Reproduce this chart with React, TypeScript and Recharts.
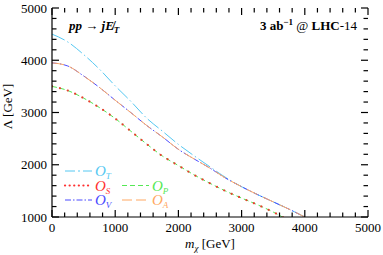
import React from 'react';
import { LineChart, Line, XAxis, YAxis, Legend } from 'recharts';

const MX = [0, 250, 500, 750, 1000, 1250, 1500, 1750, 2000, 2250, 2500, 2750, 3000, 3250, 3500, 3750, 4000];
const LAMBDA_T = [4500, 4350, 4110, 3830, 3510, 3210, 2890, 2640, 2390, 2170, 1960, 1755, 1580, 1430, 1290, 1150, 1000];
const LAMBDA_A = [3950, 3890, 3700, 3480, 3235, 2995, 2750, 2530, 2295, 2110, 1935, 1742, 1580, 1430, 1290, 1150, 1000];
const LAMBDA_V = [3950, 3890, 3700, 3480, 3235, 2995, 2750, 2530, 2295, 2110, 1935, 1742, 1580, 1430, 1290, 1150, 1000];
const LAMBDA_P = [3500, 3420, 3275, 3095, 2885, 2640, 2395, 2165, 1985, 1805, 1645, 1495, 1362, 1235, 1095, 930, null];
const LAMBDA_S = [3500, 3420, 3275, 3095, 2885, 2640, 2395, 2165, 1985, 1805, 1645, 1495, 1362, 1235, 1095, 930, null];

const X_TICKS = [0, 200, 400, 600, 800, 1000, 1200, 1400, 1600, 1800, 2000, 2200, 2400, 2600, 2800, 3000, 3200, 3400, 3600, 3800, 4000, 4200, 4400, 4600, 4800, 5000];
const Y_TICKS = [1000, 1200, 1400, 1600, 1800, 2000, 2200, 2400, 2600, 2800, 3000, 3200, 3400, 3600, 3800, 4000, 4200, 4400, 4600, 4800, 5000];
const X_LABELS = [0, 1000, 2000, 3000, 4000, 5000];
const Y_LABELS = [1000, 2000, 3000, 4000, 5000];
const MAJOR_STEP = 1000;

const data = MX.map((x, i) => ({ x, T: LAMBDA_T[i], A: LAMBDA_A[i], V: LAMBDA_V[i], P: LAMBDA_P[i], S: LAMBDA_S[i] }));

const C_T = '#55c8f2';
const C_S = '#e8402e';
const C_P = '#55e855';
const C_V = '#4a4aff';
const C_A = '#ffa862';

const SERIF = '"Liberation Serif", "DejaVu Serif", serif';
const INK = '#000';
const FRAME_W = 1.2;

const W = 383, H = 255;
const M = { top: 8, right: 15, bottom: 0, left: 0 };
const YAXIS_W = 52, XAXIS_H = 38;
const X_DOMAIN: [number, number] = [0, 5000];
const Y_DOMAIN: [number, number] = [1000, 5000];
const PLOT_L = M.left + YAXIS_W;
const PLOT_T = M.top;
const PLOT_W = W - M.left - M.right - YAXIS_W;
const PLOT_H = H - M.top - M.bottom - XAXIS_H;
const PLOT_R = PLOT_L + PLOT_W;
const PLOT_B = PLOT_T + PLOT_H;
const sx = (v: number) => PLOT_L + ((v - X_DOMAIN[0]) / (X_DOMAIN[1] - X_DOMAIN[0])) * PLOT_W;
const sy = (v: number) => PLOT_T + ((Y_DOMAIN[1] - v) / (Y_DOMAIN[1] - Y_DOMAIN[0])) * PLOT_H;
const MAJ = 7;
const MIN = 4.5;
const isMajor = (v: number) => v % MAJOR_STEP === 0;

const YTitle = (props: any) => {
  const vb = props.viewBox || { x: 0, y: 8, width: 52, height: 209 };
  const cx = vb.x + 12;
  const cy = vb.y + vb.height / 2 - 6;
  return (
    <text x={cx} y={cy} transform={`rotate(-90 ${cx} ${cy})`} textAnchor="middle" fontFamily={SERIF} fontSize={13} fill="#000">
      Λ [GeV]
    </text>
  );
};

const XTitle = (props: any) => {
  const vb = props.viewBox || { x: 52, y: 217, width: 316, height: 38 };
  const cx = vb.x + vb.width / 2;
  const cy = vb.y + 31;
  return (
    <text x={cx} y={cy} textAnchor="middle" fontFamily={SERIF} fontSize={13} fill="#000">
      <tspan fontStyle="italic">m</tspan>
      <tspan fontStyle="italic" fontSize={9} dy={3}>χ</tspan>
      <tspan dy={-3}> [GeV]</tspan>
    </text>
  );
};

const legendRows = [
  { key: 'T', color: C_T, dash: '10 3 2 3', col: 0, row: 0, width: 1 },
  { key: 'S', color: '#ff3030', dash: '0.1 4.5', col: 0, row: 1, width: 2.2 },
  { key: 'P', color: C_P, dash: '5 3', col: 1, row: 1, width: 1 },
  { key: 'V', color: C_V, dash: '6 2 1.5 2', col: 0, row: 2, width: 1 },
  { key: 'A', color: C_A, dash: '10 4', col: 1, row: 2, width: 1 },
];

const Overlay = () => (
  <svg width={W} height={H} style={{ display: 'block' }}>
    <g stroke={INK} strokeWidth={FRAME_W}>
      {X_TICKS.map((v) => {
        const l = isMajor(v) ? MAJ : MIN;
        const x = sx(v);
        return (
          <g key={`x${v}`}>
            <line x1={x} x2={x} y1={PLOT_B} y2={PLOT_B - l} />
            <line x1={x} x2={x} y1={PLOT_T} y2={PLOT_T + l} />
          </g>
        );
      })}
      {Y_TICKS.map((v) => {
        const l = isMajor(v) ? MAJ : MIN;
        const y = sy(v);
        return (
          <g key={`y${v}`}>
            <line x1={PLOT_L} x2={PLOT_L + l} y1={y} y2={y} />
            <line x1={PLOT_R} x2={PLOT_R - l} y1={y} y2={y} />
          </g>
        );
      })}
    </g>
    <text x={69} y={30} fontFamily={SERIF} fontSize={13} fontWeight="bold" fontStyle="italic" fill="#000">
      pp → j<tspan>E̸</tspan>
      <tspan fontSize={9} dy={3}>T</tspan>
    </text>
    <text x={357} y={30} textAnchor="end" fontFamily={SERIF} fontSize={13} fontWeight="bold" fill="#000">
      3 ab<tspan fontSize={9} dy={-5}>−1</tspan>
      <tspan dy={5} fontWeight="normal"> @ </tspan>LHC<tspan fontWeight="normal">-14</tspan>
    </text>
    {legendRows.map((r) => {
      const x0 = r.col === 0 ? 65 : 122;
      const y = 171 + r.row * 14.5;
      return (
        <g key={r.key}>
          <line x1={x0} x2={x0 + 27} y1={y} y2={y} stroke={r.color} strokeWidth={r.width} strokeDasharray={r.dash} strokeLinecap={r.key === 'S' ? 'round' : 'butt'} />
          <text x={x0 + 30} y={y + 5} fontFamily={SERIF} fontSize={15} fontStyle="italic" fill={r.color}>
            O<tspan fontSize={9} dy={3}>{r.key}</tspan>
          </text>
        </g>
      );
    })}
  </svg>
);

const tickText = { fontFamily: SERIF, fontSize: 13, fill: '#000' };
const frame = { stroke: INK, strokeWidth: FRAME_W };

export default function App() {
  return (
    <div style={{ position: 'absolute', left: 0, top: 0, width: W, height: H, background: '#fff' }}>
      <LineChart width={W} height={H} data={data} margin={M}>
        <XAxis dataKey="x" type="number" domain={X_DOMAIN} allowDataOverflow ticks={X_LABELS} interval={0} tickSize={0} tickMargin={6} tickLine={false} tick={tickText} height={XAXIS_H} axisLine={frame} label={<XTitle />} />
        <XAxis xAxisId="top" orientation="top" dataKey="x" type="number" domain={X_DOMAIN} allowDataOverflow tick={false} tickLine={false} height={0} axisLine={frame} />
        <YAxis type="number" domain={Y_DOMAIN} allowDataOverflow ticks={Y_LABELS} interval={0} tickSize={0} tickMargin={5} tickLine={false} tick={tickText} width={YAXIS_W} axisLine={frame} label={<YTitle />} />
        <YAxis yAxisId="right" orientation="right" type="number" domain={Y_DOMAIN} allowDataOverflow tick={false} tickLine={false} width={0} axisLine={frame} />
        <Line dataKey="T" type="monotone" stroke={C_T} strokeWidth={1} strokeDasharray="14 3 1.5 3" dot={false} isAnimationActive={false} />
        <Line dataKey="V" type="monotone" stroke={C_V} strokeWidth={1} strokeDasharray="6 2 1.5 2" dot={false} isAnimationActive={false} />
        <Line dataKey="A" type="monotone" stroke={C_A} strokeWidth={1} strokeDasharray="12 6" dot={false} isAnimationActive={false} />
        <Line dataKey="P" type="monotone" stroke={C_P} strokeWidth={1} strokeDasharray="5 3" dot={false} isAnimationActive={false} />
        <Line dataKey="S" type="monotone" stroke={C_S} strokeWidth={2.1} strokeLinecap="round" strokeDasharray="0.1 8" dot={false} isAnimationActive={false} />
        <Legend layout="vertical" align="center" verticalAlign="middle" content={() => <Overlay />} wrapperStyle={{ left: 0, top: 0, width: W, height: H, pointerEvents: 'none' }} />
      </LineChart>
    </div>
  );
}
